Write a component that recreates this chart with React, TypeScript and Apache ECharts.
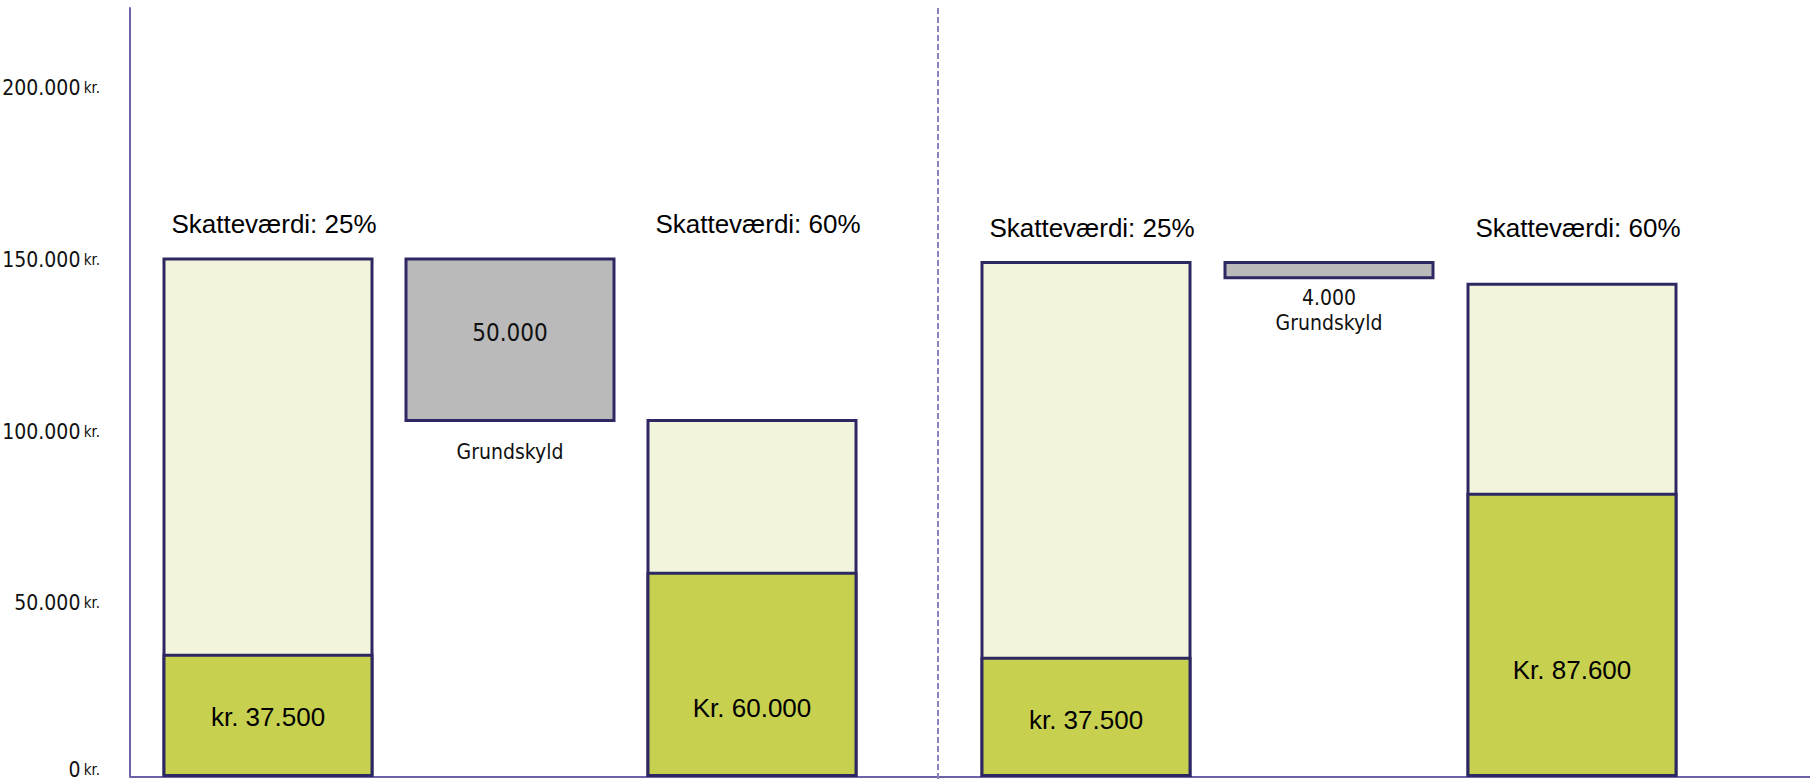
import React, { useEffect, useRef } from "react";
import * as echarts from "echarts";

// ---- data ----
const categories = ["Skatteværdi: 25%", "", "Skatteværdi: 60%"];

// left panel
const leftTotal = [151300, null, 104300];
const leftTaxed = [35900, null, 59800];
const leftTaxedLabels = ["kr. 37.500", "", "Kr. 60.000"];
const leftGrundskyldBottom = [null, 103400, null];
const leftGrundskyldTop = [null, 151300, null];

// right panel
const rightTotal = [150300, null, 144000];
const rightTaxed = [35000, null, 82800];
const rightTaxedLabels = ["kr. 37.500", "", "Kr. 87.600"];
const rightGrundskyldBottom = [null, 145000, null];
const rightGrundskyldTop = [null, 150300, null];

const grundskyldInsideLabels = ["50.000", ""];
const grundskyldBelowLabels = ["Grundskyld", "4.000\nGrundskyld"];

const yMin = 0;
const yMax = 224000;
const yInterval = 50000;

// ---- styles ----
const GREEN = "#c8d050";
const LIGHT = "#f2f5dc";
const GREY = "#bababa";
const BORDER = "#2e2862";
const AXIS = "#6b63a8";
const DASH = "#8a82bb";
const SANS = "'Liberation Sans', Arial, sans-serif";
const NARROW = "'Liberation Sans Narrow', 'DejaVu Sans Condensed', 'Roboto Condensed', 'Open Sans Condensed', sans-serif";

const taxedLabelShift = [[2, 0, 34], [3, 0, 35]];
const belowDistance = [17, 6];

function panelSeries(
  idx: number,
  total: (number | null)[],
  taxed: (number | null)[],
  taxedLabels: string[],
  gsBottom: (number | null)[],
  gsTop: (number | null)[]
) {
  const common = {
    type: "bar",
    xAxisIndex: idx,
    yAxisIndex: idx,
    barWidth: 211,
    barGap: "-100%",
    silent: true,
  };
  return [
    {
      ...common,
      name: "total" + idx,
      stack: "t" + idx,
      data: total.map((t) => (t == null ? "-" : t)),
      itemStyle: { color: LIGHT, borderColor: BORDER, borderWidth: 3 },
    },
    {
      ...common,
      name: "taxed" + idx,
      stack: "x" + idx,
      data: taxed.map((v, i) =>
        v == null ? "-" : { value: v, label: { offset: [0, taxedLabelShift[idx][i]] } }
      ),
      itemStyle: { color: GREEN, borderColor: BORDER, borderWidth: 3 },
      label: {
        show: true,
        position: "inside",
        formatter: (p: any) => taxedLabels[p.dataIndex],
        fontSize: 26,
        color: "#000",
        fontFamily: SANS,
      },
    },
    {
      ...common,
      name: "base" + idx,
      stack: "g" + idx,
      data: gsBottom.map((v) => (v == null ? "-" : v)),
      itemStyle: { color: "rgba(0,0,0,0)", borderWidth: 0 },
      label: {
        show: true,
        position: "insideTop",
        distance: belowDistance[idx],
        formatter: grundskyldBelowLabels[idx],
        fontSize: 21,
        lineHeight: 25,
        color: "#111",
        fontFamily: NARROW,
      },
    },
    {
      ...common,
      name: "grundskyld" + idx,
      stack: "g" + idx,
      data: gsTop.map((t, i) => (t == null ? "-" : t - (gsBottom[i] as number))),
      itemStyle: { color: GREY, borderColor: BORDER, borderWidth: 3 },
      label: {
        show: grundskyldInsideLabels[idx] !== "",
        position: "inside",
        offset: [0, -7],
        formatter: grundskyldInsideLabels[idx],
        fontSize: 24,
        color: "#111",
        fontFamily: NARROW,
      },
    },
  ];
}

const fmtTick = (v: number) => {
  if (v === 0) return "{z|0} {zk|kr.}";
  return `{n|${Math.round(v / 1000)}.000} {k|kr.}`;
};

export default function App() {
  const ref = useRef<HTMLDivElement>(null);
  useEffect(() => {
    if (!ref.current) return;
    const chart = echarts.init(ref.current, undefined, { renderer: "svg" });
    const xAxisBase = {
      type: "category",
      data: categories,
      position: "top",
      axisLine: { show: false },
      axisTick: { show: false },
      splitLine: { show: false },
      axisLabel: {
        fontSize: 26,
        color: "#000",
        fontFamily: SANS,
        verticalAlign: "middle",
        margin: 0,
        interval: 0,
        padding: [0, 0, 0, 12],
      },
    };
    const yAxisBase = {
      type: "value",
      min: yMin,
      max: yMax,
      interval: yInterval,
      splitLine: { show: false },
      axisTick: { show: false },
    };
    chart.setOption({
      animation: false,
      backgroundColor: "#ffffff",
      grid: [
        { left: 147, width: 726, top: 8, bottom: 5, outerBoundsMode: "none", containLabel: false },
        { left: 964.5, width: 729, top: 8, bottom: 5, outerBoundsMode: "none", containLabel: false },
      ],
      xAxis: [
        { ...xAxisBase, gridIndex: 0, offset: -216 },
        { ...xAxisBase, gridIndex: 1, offset: -220 },
      ],
      yAxis: [
        {
          ...yAxisBase,
          gridIndex: 0,
          offset: 17,
          axisLine: { show: true, lineStyle: { color: AXIS, width: 2 } },
          axisLabel: {
            show: true,
            showMaxLabel: false,
            margin: 30,
            formatter: fmtTick,
            rich: {
              n: { fontSize: 21, color: "#111", fontFamily: NARROW, padding: [0, 0, 4, 0] },
              k: { fontSize: 15, color: "#111", fontFamily: NARROW, padding: [0, 0, 4, 0] },
              z: { fontSize: 21, color: "#111", fontFamily: NARROW, padding: [0, 0, 14, 0] },
              zk: { fontSize: 15, color: "#111", fontFamily: NARROW, padding: [0, 0, 14, 0] },
            },
          },
        },
        { ...yAxisBase, gridIndex: 1, show: false },
      ],
      graphic: [
        {
          type: "line",
          z: 0,
          shape: { x1: 130, y1: 777, x2: 1810, y2: 777 },
          style: { stroke: AXIS, lineWidth: 2 },
        },
        {
          type: "line",
          z: 0,
          shape: { x1: 938, y1: 8, x2: 938, y2: 781 },
          style: { stroke: DASH, lineWidth: 2, lineDash: [6, 3] },
        },
      ],
      series: [
        ...panelSeries(0, leftTotal, leftTaxed, leftTaxedLabels, leftGrundskyldBottom, leftGrundskyldTop),
        ...panelSeries(1, rightTotal, rightTaxed, rightTaxedLabels, rightGrundskyldBottom, rightGrundskyldTop),
      ],
    });
    return () => chart.dispose();
  }, []);
  return (
    <div
      ref={ref}
      style={{ position: "fixed", left: 0, top: 0, width: 1810, height: 782, background: "#fff" }}
    />
  );
}
